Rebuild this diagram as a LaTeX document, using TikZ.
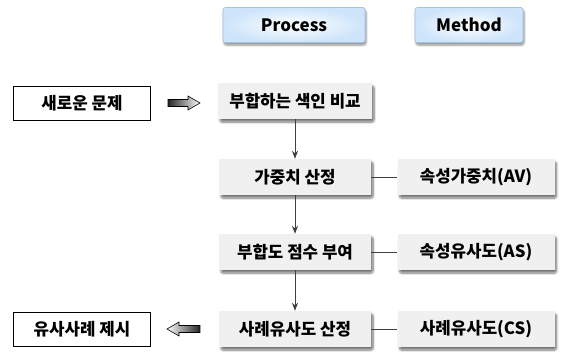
\documentclass[tikz,border=0pt]{standalone}
\usepackage{fontspec}
\setmainfont{Noto Sans CJK KR}
\usetikzlibrary{shadows.blur,arrows.meta}
\definecolor{hdrout}{RGB}{205,228,250}
\definecolor{hdrline}{RGB}{160,195,230}
\definecolor{boxfill}{RGB}{240,240,240}
\begin{document}
\begin{tikzpicture}[x=1pt,y=-1pt,
  base/.style={font=\fontsize{16.8}{19}\selectfont\bfseries, inner sep=0pt, align=center},
  hdr/.style={base, font=\fontsize{17}{19}\selectfont\bfseries, rounded corners=2.5pt, draw=hdrline, line width=0.8pt,
     inner color=white, outer color=hdrout, minimum height=35pt,
     blur shadow={shadow xshift=1pt, shadow yshift=-2.5pt, shadow blur steps=6, shadow opacity=45}},
  procbox/.style={base, fill=boxfill, minimum height=36pt, minimum width=152pt,
     blur shadow={shadow xshift=2pt, shadow yshift=-3pt, shadow blur steps=8, shadow blur extra rounding=2pt, shadow opacity=55}},
  methbox/.style={procbox, minimum width=157pt},
  plain/.style={base, draw=black, line width=0.7pt, fill=white, minimum height=34pt, minimum width=137pt},
  flow/.style={draw=black!75, line width=0.8pt, -{Stealth[length=8pt,width=6pt]}},
  link/.style={draw=black!75, line width=0.8pt},
  blockarrow/.style={draw=black, line width=0.6pt}
]
\useasboundingbox (0,0) rectangle (563,356);

\node[hdr, minimum width=142pt] (ph) at (294,25) {Process};
\node[hdr, minimum width=108pt] (mh) at (469,25) {Method};

\node[plain] (new) at (82,103) {새로운 문제};
\node[procbox, minimum width=154pt] (p1) at (295,101) {부합하는 색인 비교};
\node[procbox] (p2) at (295,177) {가중치 산정};
\node[procbox] (p3) at (295,252) {부합도 점수 부여};
\node[procbox] (p4) at (295,329) {사례유사도 산정};
\node[methbox] (m2) at (476,177) {속성가중치(AV)};
\node[methbox] (m3) at (476,252) {속성유사도(AS)};
\node[methbox] (m4) at (476,329) {사례유사도(CS)};
\node[plain] (res) at (82,329) {유사사례 제시};

\coordinate (a1) at (168,103);
\coordinate (a2) at (200,329);
\draw[blockarrow, left color=black!85, right color=white]
  (a1) ++(0,-3.5) -- ++(20,0) -- ++(0,-3.5) -- ++(12,7) -- ++(-12,7) -- ++(0,-3.5) -- ++(-20,0) -- cycle;
\draw[blockarrow, right color=black!85, left color=white]
  (a2) ++(0,-3.5) -- ++(-21,0) -- ++(0,-3.5) -- ++(-12,7) -- ++(12,7) -- ++(0,-3.5) -- ++(21,0) -- cycle;

\draw[flow] (p1.south) -- (p2.north);
\draw[flow] (p2.south) -- (p3.north);
\draw[flow] (p3.south) -- (p4.north);
\draw[link] (p2.east) -- (m2.west);
\draw[link] (p3.east) -- (m3.west);
\draw[link] (p4.east) -- (m4.west);
\end{tikzpicture}
\end{document}
